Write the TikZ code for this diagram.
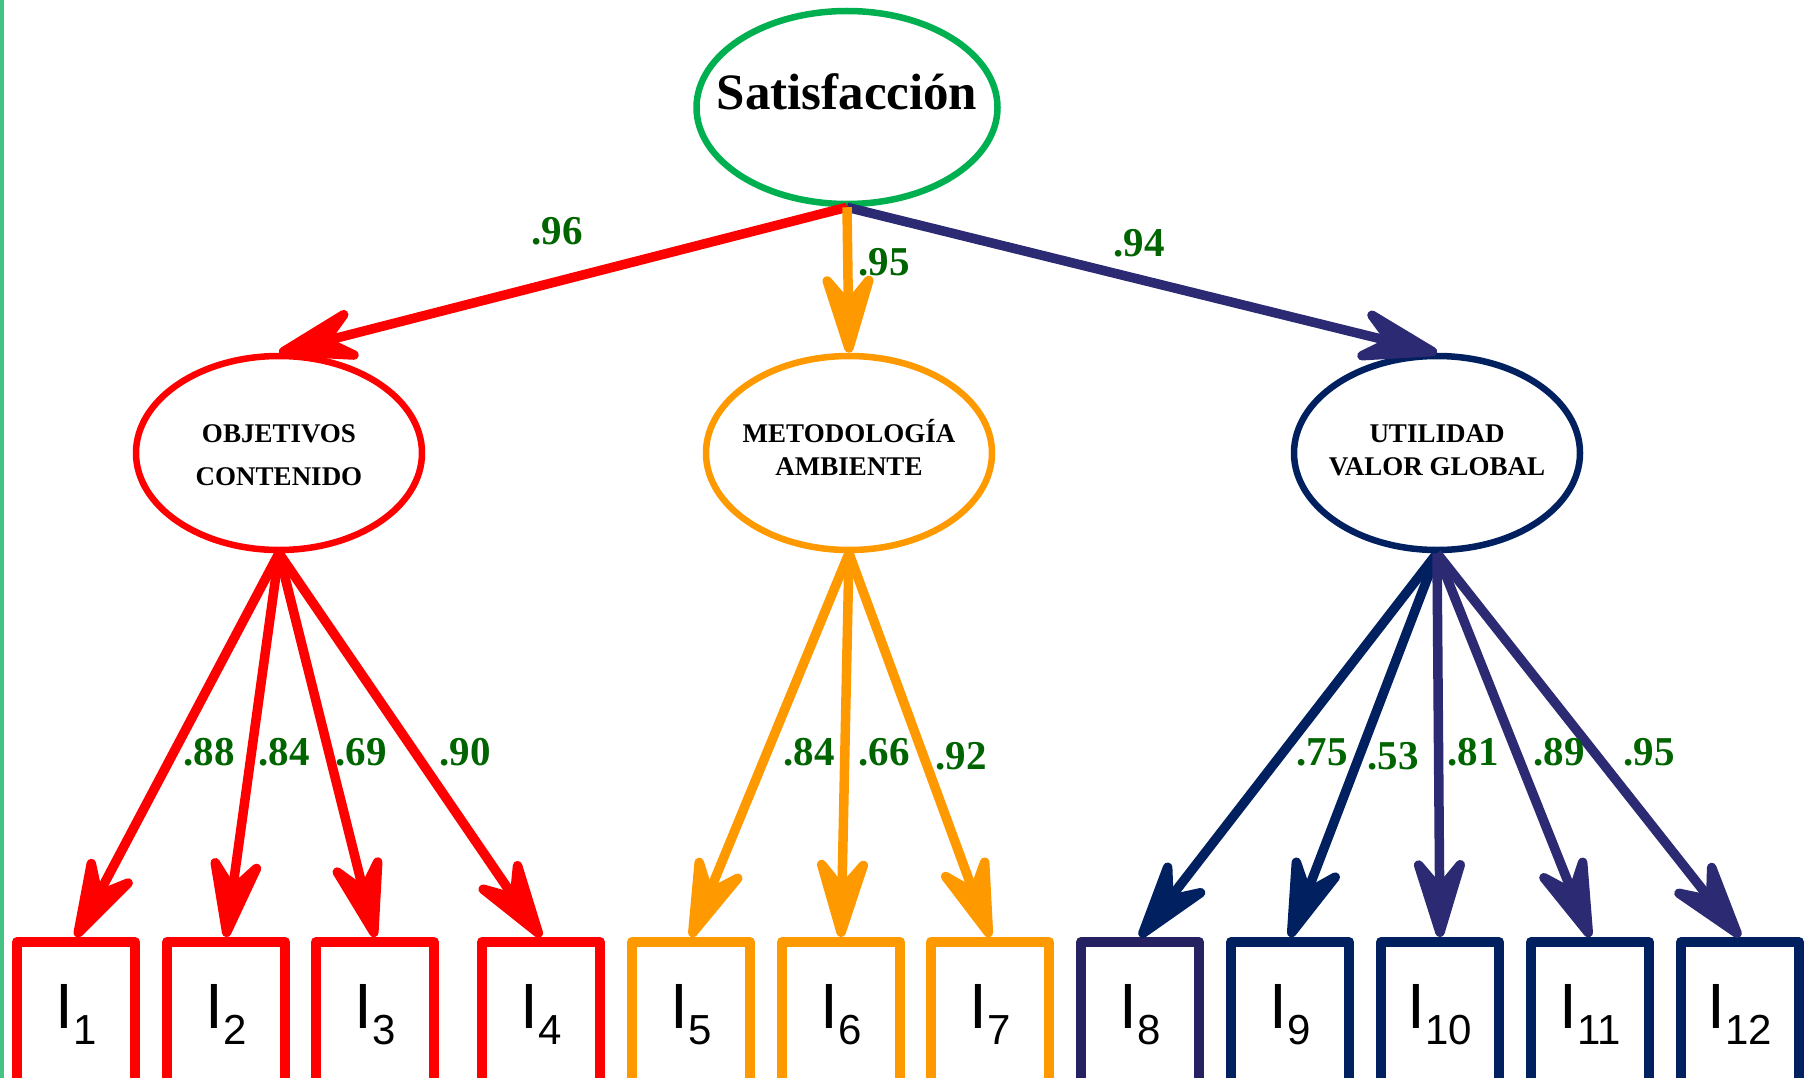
\documentclass[tikz,border=0pt]{standalone}
\usepackage{fontspec}
\setmainfont{Liberation Serif}
\newfontfamily\arialf{Liberation Sans}
\usetikzlibrary{arrows.meta,shapes.geometric}
\definecolor{cred}{HTML}{FF0000}
\definecolor{corange}{HTML}{FF9900}
\definecolor{cnavy}{HTML}{002060}
\definecolor{cpurple}{HTML}{2B2A72}
\definecolor{cboxeight}{HTML}{262262}
\definecolor{cgreen}{HTML}{00B050}
\definecolor{clab}{HTML}{006400}
\definecolor{cedge}{HTML}{45C285}
\newcommand\zbox[2]{\raisebox{#1}[0pt][0pt]{\makebox[0pt]{#2}}}
\newcommand\itemlab[1]{\zbox{-15pt}{\arialf\fontsize{64}{64}\selectfont I\raisebox{-16pt}{\fontsize{42}{42}\selectfont #1}}}
\tikzset{
  topell/.style={ellipse, draw=cgreen, line width=6.5pt, minimum width=301pt, minimum height=193pt, inner sep=0pt, fill=white,
    font=\fontsize{51}{51}\selectfont\bfseries},
  midell/.style={ellipse, line width=6.5pt, minimum width=286pt, minimum height=194pt, inner sep=0pt, fill=white,
    font=\fontsize{27}{30}\selectfont\bfseries},
  ibox/.style={rectangle, line width=10pt, line join=round, minimum width=118pt, minimum height=142pt, inner sep=0pt, fill=white},
  arr/.style={line width=9.5pt, -{Stealth[length=104pt, width=64pt, inset=38pt, round]}},
  lab/.style={text=clab, font=\fontsize{41}{41}\selectfont\bfseries, inner sep=0pt}
}
\begin{document}
\begin{tikzpicture}[x=1pt,y=-1pt]
\clip (0,0) rectangle (1804,1078);
\fill[white] (0,0) rectangle (1804,1078);
\fill[cedge] (0,0) rectangle (4,1078);

% latent variables
\node[topell] (sat) at (847,107.5) {\zbox{-2.5pt}{Satisfacción}};
\node[midell, draw=cred] (obj) at (279,453) {\zbox{11pt}{OBJETIVOS}\zbox{-32pt}{CONTENIDO}};
\node[midell, draw=corange] (met) at (849,453) {\zbox{11pt}{METODOLOGÍA}\zbox{-22pt}{AMBIENTE}};
\node[midell, draw=cnavy] (uti) at (1437,453) {\zbox{11pt}{UTILIDAD}\zbox{-22pt}{VALOR GLOBAL}};

% indicators
\node[ibox, draw=cred] (i1) at (76,1013) {\itemlab{1}};
\node[ibox, draw=cred] (i2) at (226,1013) {\itemlab{2}};
\node[ibox, draw=cred] (i3) at (375,1013) {\itemlab{3}};
\node[ibox, draw=cred] (i4) at (541,1013) {\itemlab{4}};
\node[ibox, draw=corange] (i5) at (691,1013) {\itemlab{5}};
\node[ibox, draw=corange] (i6) at (841,1013) {\itemlab{6}};
\node[ibox, draw=corange] (i7) at (990,1013) {\itemlab{7}};
\node[ibox, draw=cboxeight] (i8) at (1140,1013) {\itemlab{8}};
\node[ibox, draw=cnavy] (i9) at (1290,1013) {\itemlab{9}};
\node[ibox, draw=cnavy] (i10) at (1440,1013) {\itemlab{10}};
\node[ibox, draw=cnavy] (i11) at (1590,1013) {\itemlab{11}};
\node[ibox, draw=cnavy] (i12) at (1740,1013) {\itemlab{12}};

% second-order loadings
\draw[arr, cred] (sat.south) -- (obj.north);
\draw[arr, cpurple] (sat.south) -- (uti.north);
\draw[arr, corange] (sat.south) -- (met.north);

% first-order loadings
\draw[arr, cred] (obj.south) -- (i1.north);
\draw[arr, cred] (obj.south) -- (i2.north);
\draw[arr, cred] (obj.south) -- (i3.north);
\draw[arr, cred] (obj.south) -- (i4.north);
\draw[arr, corange] (met.south) -- (i5.north);
\draw[arr, corange] (met.south) -- (i6.north);
\draw[arr, corange] (met.south) -- (i7.north);
\draw[arr, cnavy] (uti.south) -- (i8.north);
\draw[arr, cnavy] (uti.south) -- (i9.north);
\draw[arr, cpurple] (uti.south) -- (i10.north);
\draw[arr, cpurple] (uti.south) -- (i11.north);
\draw[arr, cpurple] (uti.south) -- (i12.north);

% labels
\node[lab] (l0a) at (557,231) {.96};
\node[lab] (l0b) at (884,262) {.95};
\node[lab] (l0c) at (1139,243) {.94};
\node[lab] (l1) at (209,752) {.88};
\node[lab] (l2) at (284,752) {.84};
\node[lab] (l3) at (361,752) {.69};
\node[lab] (l4) at (465,752) {.90};
\node[lab] (l5) at (809,752) {.84};
\node[lab] (l6) at (884,752) {.66};
\node[lab] (l7) at (961,756) {.92};
\node[lab] (l8) at (1322,752) {.75};
\node[lab] (l9) at (1393,756) {.53};
\node[lab] (l10) at (1473,752) {.81};
\node[lab] (l11) at (1559,752) {.89};
\node[lab] (l12) at (1649,752) {.95};
\end{tikzpicture}
\end{document}
